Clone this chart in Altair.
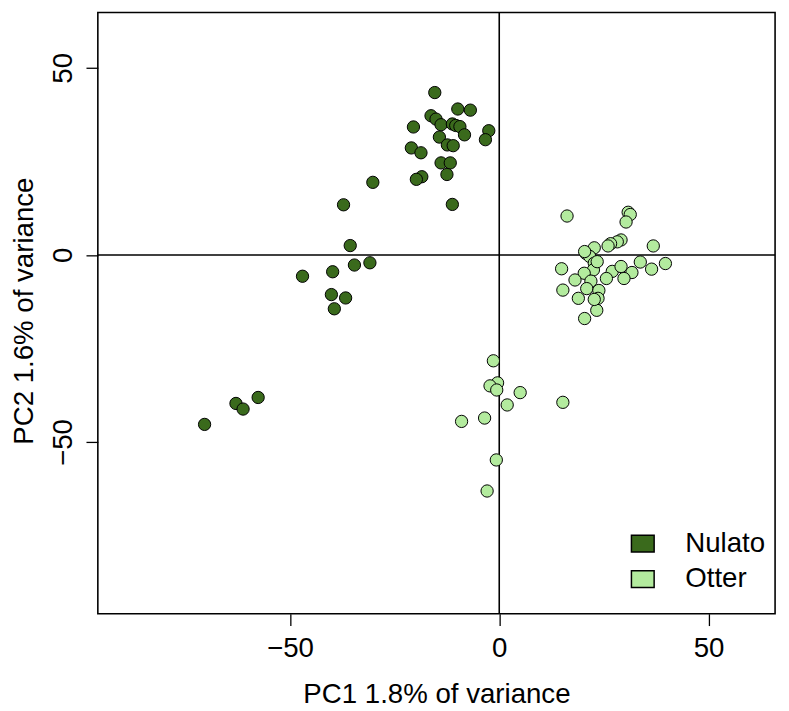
import altair as alt
import pandas as pd

groups = ["Nulato", "Otter"]
colors = ["#3a6a1c", "#b3eb9e"]

nulato_x = [-15.4, -9.9, -6.9, -16.3, -15.1, -13.9, -20.5, -11.2, -10.4, -9.4, -8.3, -2.5,
            -3.3, -14.3, -12.4, -11.0, -21.0, -18.7, -13.9, -11.7, -12.5, -18.5, -19.8,
            -30.2, -11.2, -37.2, -35.6, -34.6, -30.9, -39.8, -47.0, -40.1, -36.7, -39.4,
            -70.4, -62.9, -61.2, -57.6]
nulato_y = [43.4, 39.0, 38.7, 37.2, 36.3, 34.8, 34.2, 35.0, 34.6, 34.3, 32.1, 33.2,
            30.8, 31.5, 29.4, 29.2, 28.6, 27.3, 24.6, 24.6, 21.5, 20.9, 20.2,
            19.4, 13.5, 13.4, 2.5, -2.7, -2.1, -4.5, -5.7, -10.6, -11.5, -14.4,
            -45.3, -39.7, -41.2, -38.1]

otter_x = [16.2, 30.8, 31.3, 30.3, 29.1, 28.2, 26.6, 26.0, 36.8, 22.7, 20.7, 21.6,
           22.7, 14.9, 22.5, 20.3, 27.0, 29.1, 33.7, 36.4, 39.7, 31.7, 29.8, 25.6,
           18.1, 21.9, 15.2, 20.9, 23.8, 18.9, 23.6, 23.3, 20.4, 22.7, 20.4, 23.4,
           -1.4, -0.4, -2.2, -0.6, 5.0, 1.9, 15.2, -3.5, -9.0, -0.7, -2.9]
otter_y = [10.4, 11.4, 10.8, 8.8, 4.0, 3.5, 3.0, 2.4, 2.4, 1.9, 0.4, -0.4,
           -2.2, -3.7, -4.0, -4.9, -4.4, -3.1, -1.9, -3.8, -2.3, -4.7, -6.3, -6.3,
           -6.7, -7.0, -9.4, -9.0, -9.5, -11.6, -11.6, -14.8, -17.0, -11.9, 0.9, -1.8,
           -28.3, -34.2, -35.0, -36.1, -36.8, -40.1, -39.4, -43.6, -44.5, -54.8, -63.1]

x_ticks = [-50, 0, 50]
y_ticks = [-50, 0, 50]

df = pd.DataFrame({
    "x": nulato_x + otter_x,
    "y": nulato_y + otter_y,
    "group": [groups[0]] * len(nulato_x) + [groups[1]] * len(otter_x),
})

FONT = "Liberation Sans"
FS = 28

xscale = alt.Scale(domain=[-95.9, 65.9], nice=False, zero=False)
yscale = alt.Scale(domain=[-95.9, 64.8], nice=False, zero=False)

x_axis = alt.Axis(values=x_ticks, grid=False, domain=False, tickSize=12, tickWidth=1.3,
                  tickColor="black", labelFont=FONT, labelFontSize=FS, labelColor="black",
                  labelBaseline="alphabetic", labelPadding=31, labelAlign="center",
                  title="PC1 1.8% of variance", titleFont=FONT, titleFontSize=FS,
                  titleFontWeight="normal", titleColor="black",
                  titleBaseline="alphabetic", titleY=90, titleX=343)
y_axis = alt.Axis(values=y_ticks, grid=False, domain=False, tickSize=12, tickWidth=1.3,
                  tickColor="black", labelFont=FONT, labelFontSize=FS, labelColor="black",
                  labelAngle=270, labelAlign="center", labelBaseline="alphabetic",
                  labelPadding=15,
                  title="PC2 1.6% of variance", titleFont=FONT, titleFontSize=FS,
                  titleFontWeight="normal", titleColor="black", titleAngle=270,
                  titleBaseline="alphabetic", titleX=-66, titleY=302)

legend = alt.Legend(title=None, orient="none", legendX=538, legendY=524, padding=0,
                    symbolType="M-1,-0.74L1,-0.74L1,0.74L-1,0.74Z", symbolSize=529,
                    symbolStrokeColor="black", symbolStrokeWidth=1.5, symbolOpacity=1,
                    labelFont=FONT, labelFontSize=FS, labelColor="black",
                    labelOffset=29, rowPadding=8, labelLimit=300)

points = alt.Chart(df).mark_circle(size=155, stroke="black", strokeWidth=1, opacity=1).encode(
    x=alt.X("x:Q", scale=xscale, axis=x_axis),
    y=alt.Y("y:Q", scale=yscale, axis=y_axis),
    color=alt.Color("group:N", scale=alt.Scale(domain=groups, range=colors), legend=legend),
)

vline = alt.Chart(pd.DataFrame({"v": [0]})).mark_rule(color="black", strokeWidth=1.6).encode(
    x=alt.X("v:Q", scale=xscale))
hline = alt.Chart(pd.DataFrame({"v": [0]})).mark_rule(color="black", strokeWidth=1.6).encode(
    y=alt.Y("v:Q", scale=yscale))

chart = alt.layer(vline, hline, points).properties(
    width=686, height=609,
    autosize=alt.AutoSizeParams(type="none"),
    padding={"left": 91, "top": 0, "right": 6, "bottom": 94},
    background="white",
).configure_view(stroke="black", strokeWidth=1.6)

chart.save("out.html", embed_options={"renderer": "svg", "actions": False})
